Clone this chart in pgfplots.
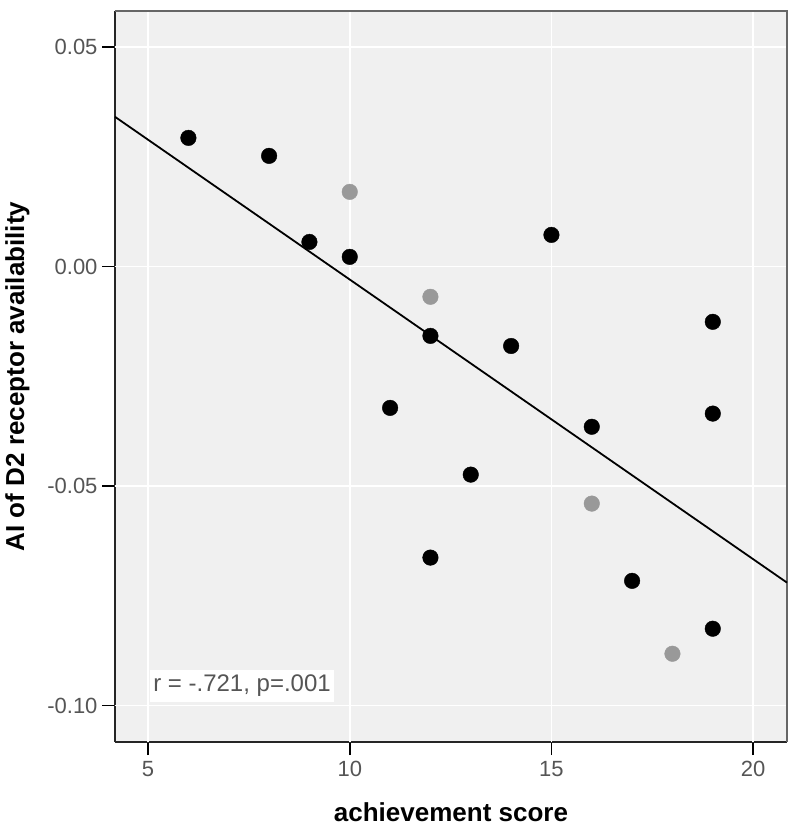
\documentclass[border=0pt]{standalone}
\usepackage{fontspec}
\setmainfont{Liberation Sans}
\usepackage{pgfplots}
\pgfplotsset{compat=1.18}
\definecolor{bgc}{HTML}{F0F0F0}
\definecolor{tickc}{HTML}{555555}
\definecolor{graypt}{HTML}{999999}
\begin{document}
\begin{tikzpicture}
\path[use as bounding box] (-115bp,-91bp) rectangle (685bp,742bp);
\begin{axis}[
  at={(0,0)}, anchor=south west,
  scale only axis, width=672bp, height=731bp,
  xmin=4.18, xmax=20.84, ymin=-0.1083, ymax=0.0582,
  axis background/.style={fill=bgc},
  axis x line*=bottom, axis y line*=left,
  axis line style={black!85, line width=2bp},
  xtick={5,10,15,20}, ytick={-0.10,-0.05,0,0.05},
  yticklabel style={/pgf/number format/fixed, /pgf/number format/fixed zerofill, /pgf/number format/precision=2, xshift=-1bp},
  /pgf/number format/assume math mode=true,
  tick label style={font=\fontsize{22bp}{26bp}\selectfont, text=tickc},
  xticklabel style={yshift=-3bp},
  tick align=outside,
  major tick length=13bp,
  every tick/.append style={draw=black, line width=1.5bp},
  extra x ticks={5,10,15,20}, extra y ticks={-0.10,-0.05,0,0.05},
  extra tick style={grid=major, major tick length=0pt, major grid style={white, line width=1.5bp}},
  extra x tick labels={}, extra y tick labels={},
  xlabel={\textbf{achievement score}},
  ylabel={\textbf{AI of D2 receptor availability}},
  label style={font=\fontsize{26bp}{30bp}\selectfont},
  xlabel style={yshift=-6bp},
  ylabel style={yshift=-2bp},
  clip=false,
]
\draw[gray!80!black, line width=1.2bp] (rel axis cs:0,1) -- (rel axis cs:1,1) -- (rel axis cs:1,0);
\addplot[black, line width=1.8bp] coordinates {(4.18,0.0341) (20.84,-0.0720)};
\addplot[only marks, mark=*, mark size=7.8bp, black] coordinates {
(6,0.0293) (8,0.0252) (9,0.0056) (10,0.0022) (12,-0.0158) (11,-0.0322)
(13,-0.0474) (12,-0.0663) (14,-0.0181) (15,0.0072) (16,-0.0365)
(17,-0.0716) (19,-0.0126) (19,-0.0335) (19,-0.0825)};
\addplot[only marks, mark=*, mark size=7.8bp, graypt, mark options={draw=graypt, fill=graypt}] coordinates {
(10,0.0170) (12,-0.0069) (16,-0.0540) (18,-0.0882)};
\node[anchor=west, fill=white, inner xsep=3bp, inner ysep=5bp, text=tickc, font=\fontsize{24bp}{28bp}\selectfont] at (axis cs:5.05,-0.0955) {r = -.721, p=.001};
\end{axis}
\end{tikzpicture}
\end{document}
